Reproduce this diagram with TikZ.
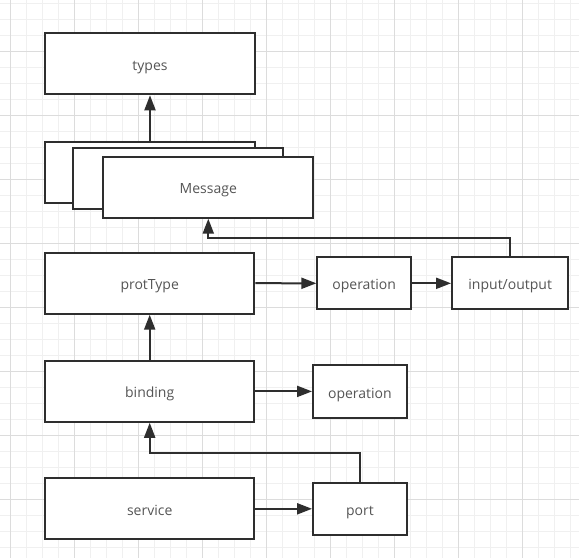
\documentclass[tikz,border=0pt]{standalone}
\usepackage{fontspec}
\setmainfont{Open Sans}
\usetikzlibrary{arrows.meta}
\definecolor{gridminor}{HTML}{F0F0F0}
\definecolor{gridmajor}{HTML}{DCDCDC}
\definecolor{ink}{HTML}{2E2E2E}
\definecolor{txt}{HTML}{555555}
\tikzset{
  box/.style={draw=ink, line width=2pt, fill=white, text=txt, inner sep=0pt,
    text height=16pt, text depth=3pt,
    font=\fontsize{14}{16}\selectfont},
  conn/.style={draw=ink, line width=2pt, -{Triangle[length=15pt,width=11pt]}},
}
\begin{document}
\begin{tikzpicture}[x=1pt,y=-1pt]
\fill[white] (0,0) rectangle (579,558);
\useasboundingbox (0,0) rectangle (579,558);
% grid
\foreach \i in {0,...,36} {
  \draw[gridminor, line width=1pt] ({10.3+16*\i},0) -- ({10.3+16*\i},558);
}
\foreach \i in {0,...,35} {
  \draw[gridminor, line width=1pt] (0,{3.7+16*\i}) -- (579,{3.7+16*\i});
}
\foreach \i in {0,...,9} {
  \draw[gridmajor, line width=1pt] ({10.3+64*\i},0) -- ({10.3+64*\i},558);
}
\foreach \i in {0,...,8} {
  \draw[gridmajor, line width=1pt] (0,{51.7+64*\i}) -- (579,{51.7+64*\i});
}
% nodes
\node[box, minimum width=210pt, minimum height=61pt] (types) at (150,63.8) {types};
\node[box, minimum width=210pt, minimum height=60.4pt] (msg3) at (150,172.5) {};
\node[box, minimum width=210pt, minimum height=61pt] (msg2) at (178.3,178.8) {};
\node[box, minimum width=210pt, minimum height=61pt] (msg1) at (208.3,187.2) {Message};
\node[box, minimum width=209.3pt, minimum height=61pt] (prot) at (149.7,283.2) {protType};
\node[box, minimum width=93.7pt, minimum height=52pt] (op1) at (364.2,283.3) {operation};
\node[box, minimum width=116.3pt, minimum height=52pt] (io) at (510.2,283.3) {input/output};
\node[box, minimum width=209.3pt, minimum height=60.7pt] (bind) at (149.7,391.4) {binding};
\node[box, minimum width=93.7pt, minimum height=52.7pt] (op2) at (359.9,391.7) {operation};
\node[box, minimum width=209.3pt, minimum height=61pt] (serv) at (149.7,508.8) {service};
\node[box, minimum width=93.7pt, minimum height=52.3pt] (port) at (359.9,508.9) {port};
% connectors
\coordinate (iobend) at (510.2,237.7);
\coordinate (portbend) at (359.9,453.3);
\draw[conn] (msg3.north) -- (types.south);
\draw[conn] (prot.east) -- (op1.west);
\draw[conn] (op1.east) -- (io.west);
\draw[conn] (io.north) -- (iobend) -| (msg1.south);
\draw[conn] (bind.north) -- (prot.south);
\draw[conn] (bind.east) -- (bind.east -| op2.west);
\draw[conn] (serv.east) -- (serv.east -| port.west);
\draw[conn] (port.north) -- (portbend) -| (bind.south);
\end{tikzpicture}
\end{document}
